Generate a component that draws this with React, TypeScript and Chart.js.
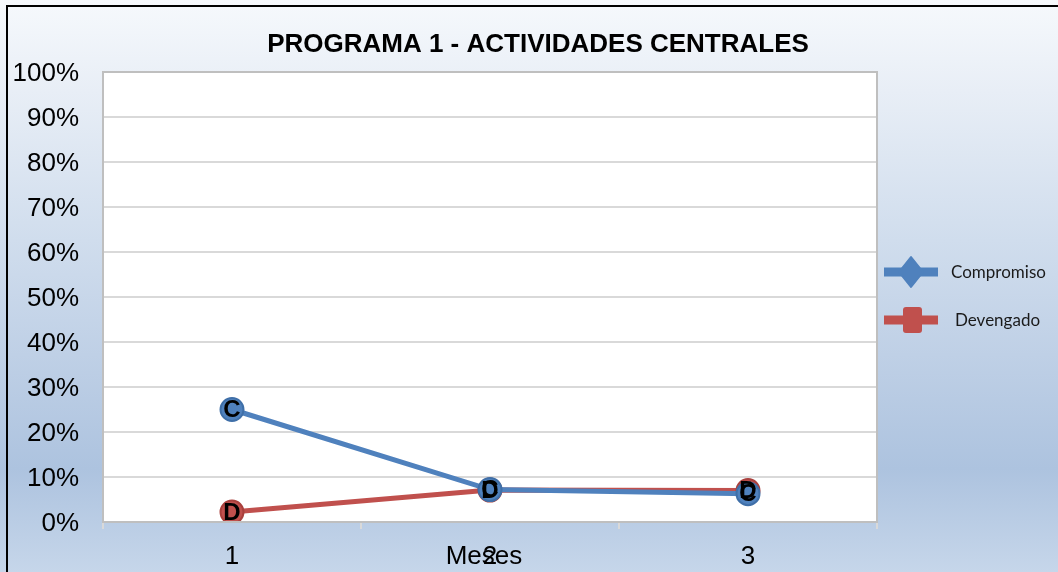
import React, { useEffect, useRef } from "react";
import { Chart, registerables } from "chart.js";

Chart.register(...registerables);

const titleText = "PROGRAMA 1 - ACTIVIDADES CENTRALES";
const categories = ["1", "2", "3"];
const seriesNames = ["Compromiso", "Devengado"];
const seriesLetters = ["C", "D"];
const compromiso = [25.0, 7.2, 6.3];
const devengado = [2.2, 7.1, 7.0];
const xAxisTitle = "Meses";
const colors = ["#4f81bd", "#c0504d"];
const borderColors = ["#3f6fa8", "#a9403d"];

const decorPlugin = {
  id: "decor",
  beforeDraw(chart: any) {
    const { ctx, width, height } = chart;
    ctx.save();
    const g = ctx.createLinearGradient(0, 0, 0, height);
    g.addColorStop(0, "#f6f9fc");
    g.addColorStop(0.16, "#e8eef6");
    g.addColorStop(0.42, "#d0dded");
    g.addColorStop(0.62, "#bfd0e6");
    g.addColorStop(0.82, "#adc3df");
    g.addColorStop(1, "#c6d6ea");
    ctx.fillStyle = g;
    ctx.fillRect(0, 0, width, height);
    ctx.strokeStyle = "#000000";
    ctx.lineWidth = 2;
    ctx.beginPath();
    ctx.moveTo(7, height + 2);
    ctx.lineTo(7, 6);
    ctx.lineTo(width + 2, 6);
    ctx.stroke();
    const a = chart.chartArea;
    ctx.fillStyle = "#ffffff";
    ctx.fillRect(a.left, a.top, a.right - a.left, a.bottom - a.top);
    ctx.restore();
  },
  afterDatasetsDraw(chart: any) {
    const { ctx } = chart;
    const a = chart.chartArea;
    ctx.save();
    ctx.strokeStyle = "#bfbfbf";
    ctx.lineWidth = 2;
    ctx.strokeRect(a.left, a.top, a.right - a.left, a.bottom - a.top);
    ctx.fillStyle = "#000000";
    ctx.font = "bold 24px 'Liberation Sans', Arial, sans-serif";
    ctx.textAlign = "center";
    ctx.textBaseline = "middle";
    chart.data.datasets.forEach((ds: any, i: number) => {
      const meta = chart.getDatasetMeta(i);
      meta.data.forEach((pt: any) => {
        ctx.fillText(seriesLetters[i], pt.x, pt.y + 1);
      });
    });
    ctx.restore();
  },
  afterDraw(chart: any) {
    const { ctx } = chart;
    const a = chart.chartArea;
    ctx.save();
    ctx.fillStyle = "#000000";
    ctx.font = "bold 26px 'Liberation Sans', Arial, sans-serif";
    ctx.textAlign = "center";
    ctx.textBaseline = "middle";
    ctx.fillText(titleText, 538, 45);
    ctx.font = "26px 'Liberation Sans', Arial, sans-serif";
    ctx.fillText(xAxisTitle, (a.left + a.right) / 2 - 6, 557);
    const legendY = [272, 320];
    chart.data.datasets.forEach((ds: any, i: number) => {
      const y = legendY[i];
      ctx.fillStyle = colors[i];
      ctx.fillRect(884, y - 4.5, 54, 9);
      if (i === 0) {
        ctx.beginPath();
        ctx.moveTo(911, y - 15);
        ctx.lineTo(923, y);
        ctx.lineTo(911, y + 15);
        ctx.lineTo(899, y);
        ctx.closePath();
        ctx.lineJoin = "round";
        ctx.lineWidth = 2;
        ctx.strokeStyle = colors[i];
        ctx.fill();
        ctx.stroke();
      } else {
        ctx.beginPath();
        const r = 3;
        const x0 = 903, y0 = y - 13, w = 19, h = 26;
        ctx.moveTo(x0 + r, y0);
        ctx.lineTo(x0 + w - r, y0);
        ctx.quadraticCurveTo(x0 + w, y0, x0 + w, y0 + r);
        ctx.lineTo(x0 + w, y0 + h - r);
        ctx.quadraticCurveTo(x0 + w, y0 + h, x0 + w - r, y0 + h);
        ctx.lineTo(x0 + r, y0 + h);
        ctx.quadraticCurveTo(x0, y0 + h, x0, y0 + h - r);
        ctx.lineTo(x0, y0 + r);
        ctx.quadraticCurveTo(x0, y0, x0 + r, y0);
        ctx.closePath();
        ctx.fill();
      }
      ctx.fillStyle = "#1a1a1a";
      ctx.font = "17px Lato, 'Noto Sans', sans-serif";
      ctx.textAlign = "left";
      ctx.textBaseline = "middle";
      ctx.fillText(ds.label, i === 0 ? 951 : 955, y + 1);
    });
    ctx.restore();
  },
};

export default function App() {
  const ref = useRef<HTMLCanvasElement | null>(null);
  useEffect(() => {
    if (!ref.current) return;
    const chart = new Chart(ref.current, {
      type: "line",
      data: {
        labels: categories,
        datasets: [compromiso, devengado].map((vals, i) => ({
          label: seriesNames[i],
          data: vals,
          borderColor: colors[i],
          backgroundColor: colors[i],
          borderWidth: 5,
          pointRadius: 11.5,
          pointHoverRadius: 11.5,
          pointBackgroundColor: colors[i],
          pointBorderColor: borderColors[i],
          pointBorderWidth: 2,
          tension: 0,
          fill: false,
        })),
      },
      options: {
        animation: false,
        responsive: false,
        layout: { padding: { top: 72, right: 181, left: 0, bottom: 0 } },
        plugins: {
          legend: { display: false },
          title: { display: false },
          tooltip: { enabled: false },
        },
        scales: {
          x: {
            type: "category",
            offset: true,
            grid: {
              display: true,
              offset: true,
              drawOnChartArea: false,
              drawTicks: true,
              tickLength: 7,
              color: "#d9d9d9",
              lineWidth: 2,
            },
            border: { display: false },
            ticks: {
              color: "#000000",
              font: { family: "'Liberation Sans', Arial, sans-serif", size: 26 },
              padding: 12,
              maxRotation: 0,
            },
            afterFit: (s: any) => {
              s.height = 50;
            },
          },
          y: {
            min: 0,
            max: 100,
            grid: {
              color: "#d9d9d9",
              lineWidth: 2,
              drawTicks: false,
            },
            border: { display: false },
            ticks: {
              stepSize: 10,
              color: "#000000",
              padding: 24,
              labelOffset: 2,
              font: { family: "'Liberation Sans', Arial, sans-serif", size: 26 },
              callback: (v: any) => v + "%",
            },
            afterFit: (s: any) => {
              s.width = 103;
            },
          },
        },
      },
      plugins: [decorPlugin],
    });
    return () => chart.destroy();
  }, []);
  return (
    <div style={{ position: "absolute", left: 0, top: 0, width: 1058, height: 572 }}>
      <canvas ref={ref} width={1058} height={572} style={{ display: "block" }} />
    </div>
  );
}
